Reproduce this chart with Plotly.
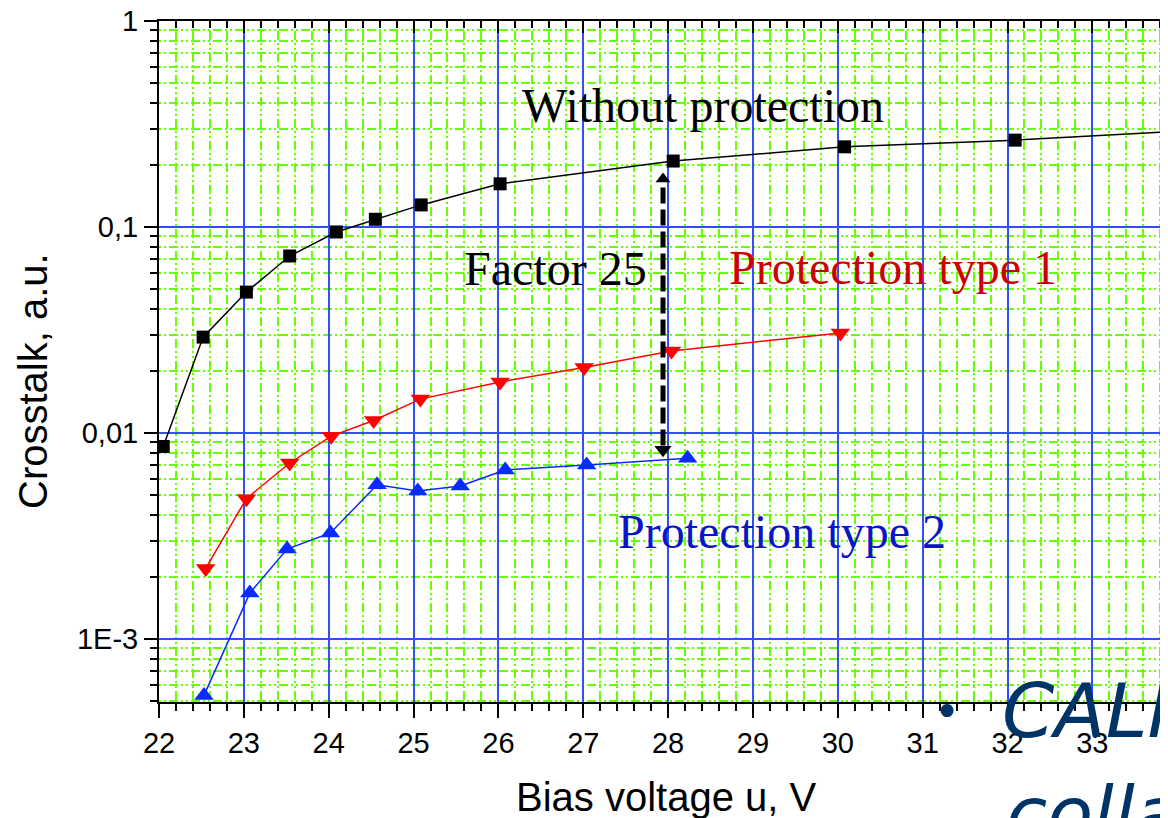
import plotly.graph_objects as go

# ---------------- data ----------------
x_without = [22.05, 22.52, 23.03, 23.54, 24.09, 24.55, 25.09, 26.02, 28.06, 30.08, 32.09, 34.05]
y_without = [0.0086, 0.0292, 0.0483, 0.0723, 0.0946, 0.109, 0.128, 0.162, 0.209, 0.245, 0.264, 0.292]

x_type1 = [22.55, 23.03, 23.54, 24.03, 24.53, 25.08, 26.02, 27.01, 28.04, 30.03]
y_type1 = [0.00220, 0.00480, 0.00715, 0.00965, 0.0115, 0.0146, 0.0177, 0.0208, 0.0250, 0.0306]

x_type2 = [22.53, 23.07, 23.51, 24.02, 24.57, 25.05, 25.55, 26.08, 27.04, 28.23]
y_type2 = [0.000532, 0.00167, 0.00273, 0.00327, 0.0056, 0.00523, 0.00553, 0.00661, 0.0070, 0.00753]

arrow_x = [27.94, 27.94]
arrow_y = [0.0087, 0.16]
arrow_head_top = 0.171
arrow_head_bottom = 0.0083

x_ticks = list(range(22, 34))
y_ticks = [1, 0.1, 0.01, 0.001]
y_ticktext = ["1", "0,1", "0,01", "1E-3"]

# ---------------- geometry helpers ----------------
# page body has an 8px margin, so the figure is drawn 8px smaller and
# reference-pixel positions are converted to plot-area (paper) fractions.
OFF = 8
W, H = 1168 - OFF, 818 - OFF
L, R, T, B = 159, 1168, 21, 702      # plot area in window pixels
def px(xp):
    return (xp - L) / (R - L)
def py(yp):
    return (B - yp) / (B - T)

GREEN = "#66ff00"
BLUE_GRID = "#3050ff"
SANS = "Liberation Sans, Arial, sans-serif"
SERIF = "Liberation Serif, Times New Roman, serif"
COMIC = "Comic Sans MS, DejaVu Sans, sans-serif"
GDASH = "2px,3px,2px,3px,9px,3px"

y_minor = [m * 10 ** e for e in (-4, -3, -2, -1) for m in range(2, 10)]
y_minor = [v for v in y_minor if v > 4.9e-4]

fig = go.Figure()

fig.add_trace(go.Scatter(x=x_without, y=y_without, mode="lines+markers",
                         line=dict(color="black", width=1.5),
                         marker=dict(symbol="square", size=13, color="black"),
                         showlegend=False))
fig.add_trace(go.Scatter(x=x_type1, y=y_type1, mode="lines+markers",
                         line=dict(color="#ff0000", width=1.5),
                         marker=dict(symbol="triangle-down", size=17, color="#ff0000"),
                         showlegend=False))
fig.add_trace(go.Scatter(x=x_type2, y=y_type2, mode="lines+markers",
                         line=dict(color="#0a2bff", width=1.5),
                         marker=dict(symbol="triangle-up", size=17, color="#0a2bff"),
                         showlegend=False))
# Factor-25 arrow
fig.add_trace(go.Scatter(x=arrow_x, y=arrow_y, mode="lines",
                         line=dict(color="black", width=5, dash="16px,6px"),
                         showlegend=False, hoverinfo="skip"))
fig.add_trace(go.Scatter(x=[arrow_x[0]], y=[arrow_head_top], mode="markers",
                         marker=dict(symbol="triangle-up", size=13, color="black"),
                         showlegend=False, hoverinfo="skip"))
fig.add_trace(go.Scatter(x=[arrow_x[0]], y=[arrow_head_bottom], mode="markers",
                         marker=dict(symbol="triangle-down", size=15, color="black"),
                         showlegend=False, hoverinfo="skip"))
# dummy trace for top axis
fig.add_trace(go.Scatter(x=[22], y=[None], xaxis="x2", showlegend=False, hoverinfo="skip"))

xr = [22, 22 + (R - L) / 84.85]
common_x = dict(range=xr, tickvals=x_ticks, linecolor="black", linewidth=2, showline=True,
                zeroline=False, automargin=False)
fig.update_layout(
    width=W, height=H,
    margin=dict(l=L - OFF, r=(W + OFF) - R, t=T - OFF, b=(H + OFF) - B, pad=0),
    paper_bgcolor="white", plot_bgcolor="white",
    xaxis=dict(**common_x, ticks="outside", ticklen=14, tickwidth=2, tickcolor="black",
               showgrid=True, gridcolor=BLUE_GRID, gridwidth=1.6,
               tickfont=dict(family=SANS, size=29, color="black"),
               minor=dict(dtick=0.2, tick0=22, ticks="outside", ticklen=7, tickwidth=1.5,
                          tickcolor="black", showgrid=True, gridcolor=GREEN, gridwidth=1.8,
                          griddash=GDASH)),
    xaxis2=dict(**common_x, overlaying="x", side="top", anchor="y", matches="x",
                ticks="inside", ticklen=12, tickwidth=2, tickcolor="black",
                showticklabels=False, showgrid=False,
                minor=dict(dtick=0.2, tick0=22, ticks="inside", ticklen=7, tickwidth=1.5,
                           tickcolor="black", showgrid=False)),
    yaxis=dict(type="log", range=[-3.306, 0], tickvals=y_ticks, ticktext=y_ticktext,
               linecolor="black", linewidth=2, showline=True, zeroline=False, automargin=False,
               ticks="outside", ticklen=13, tickwidth=2, tickcolor="black",
               ticklabeloverflow="allow",
               showgrid=True, gridcolor=BLUE_GRID, gridwidth=1.6,
               tickfont=dict(family=SANS, size=29, color="black"),
               minor=dict(tickmode="array", tickvals=y_minor, ticks="outside", ticklen=7,
                          tickwidth=1.5, tickcolor="black", showgrid=True, gridcolor=GREEN,
                          gridwidth=1.8, griddash=GDASH)),
)

def ann(text, xp, yp, size, color, family, xanchor="center", yanchor="middle", **kw):
    fkw = kw.pop("fkw", {})
    fig.add_annotation(text=text, x=px(xp), y=py(yp), xref="paper", yref="paper",
                       xanchor=xanchor, yanchor=yanchor, showarrow=False,
                       font=dict(family=family, size=size, color=color, **fkw), **kw)

ann("Without protection", 703, 106, 48, "black", SERIF)
ann("Factor 25", 555, 268, 48, "black", SERIF)
ann("Protection type 1", 893, 267, 48, "#cc0000", SERIF)
ann("Protection type 2", 782, 531, 48, "#0a14cc", SERIF)

ann("Bias voltage u, V", 666, 797, 40, "black", SANS)
ann("Crosstalk, a.u.", 33, 381, 40, "black", SANS, textangle=-90)

NAVY = "#003366"
ann("•", 947, 712, 44, NAVY, COMIC)
ann("CALICE", 1000, 711, 75, NAVY, COMIC, xanchor="left", fkw=dict(style="italic"))
ann("collaboration", 1004, 814, 75, NAVY, COMIC, xanchor="left", fkw=dict(style="italic"))

fig.write_html("out.html")
